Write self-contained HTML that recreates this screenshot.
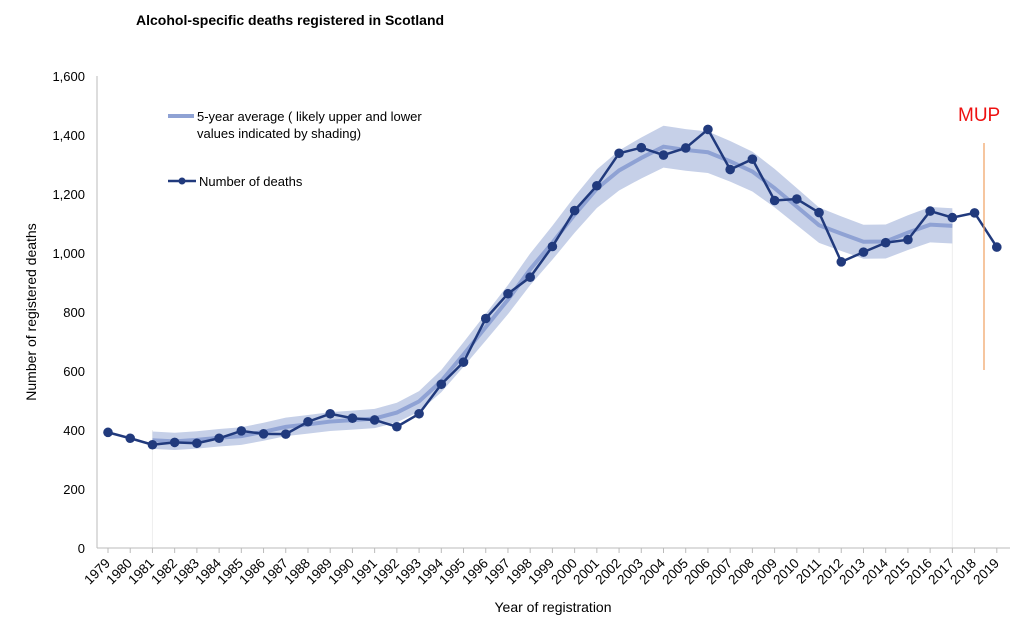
<!DOCTYPE html>
<html><head><meta charset="utf-8"><style>
body{margin:0;background:#fff;width:1024px;height:627px;overflow:hidden}
svg{font-family:"Liberation Sans",Arial,sans-serif}
</style></head><body>
<svg id="c" width="1024" height="627" viewBox="0 0 1024 627">
<text x="136" y="25" font-size="14" font-weight="bold">Alcohol-specific deaths registered in Scotland</text>
<g id="g"></g>
<line x1="97" y1="76" x2="97" y2="548" stroke="#bbb"/>
<line x1="97" y1="548" x2="1010" y2="548" stroke="#bbb"/>
<g font-size="13" text-anchor="end" fill="#000">
<text x="85" y="553">0</text><text x="85" y="494">200</text><text x="85" y="435">400</text><text x="85" y="376">600</text><text x="85" y="317">800</text><text x="85" y="258">1,000</text><text x="85" y="199">1,200</text><text x="85" y="140">1,400</text><text x="85" y="81">1,600</text>
</g>
<text transform="translate(36,312) rotate(-90)" font-size="14" text-anchor="middle">Number of registered deaths</text>
<text x="553" y="612" font-size="14" text-anchor="middle">Year of registration</text>
<g id="yl" font-size="13.5" text-anchor="end">
<text transform="translate(111,564) rotate(-45)">1979</text><text transform="translate(133,564) rotate(-45)">1980</text><text transform="translate(155,564) rotate(-45)">1981</text><text transform="translate(178,564) rotate(-45)">1982</text><text transform="translate(200,564) rotate(-45)">1983</text><text transform="translate(222,564) rotate(-45)">1984</text><text transform="translate(244,564) rotate(-45)">1985</text><text transform="translate(266,564) rotate(-45)">1986</text><text transform="translate(289,564) rotate(-45)">1987</text><text transform="translate(311,564) rotate(-45)">1988</text><text transform="translate(333,564) rotate(-45)">1989</text><text transform="translate(355,564) rotate(-45)">1990</text><text transform="translate(378,564) rotate(-45)">1991</text><text transform="translate(400,564) rotate(-45)">1992</text><text transform="translate(422,564) rotate(-45)">1993</text><text transform="translate(444,564) rotate(-45)">1994</text><text transform="translate(466,564) rotate(-45)">1995</text><text transform="translate(489,564) rotate(-45)">1996</text><text transform="translate(511,564) rotate(-45)">1997</text><text transform="translate(533,564) rotate(-45)">1998</text><text transform="translate(555,564) rotate(-45)">1999</text><text transform="translate(578,564) rotate(-45)">2000</text><text transform="translate(600,564) rotate(-45)">2001</text><text transform="translate(622,564) rotate(-45)">2002</text><text transform="translate(644,564) rotate(-45)">2003</text><text transform="translate(666,564) rotate(-45)">2004</text><text transform="translate(689,564) rotate(-45)">2005</text><text transform="translate(711,564) rotate(-45)">2006</text><text transform="translate(733,564) rotate(-45)">2007</text><text transform="translate(755,564) rotate(-45)">2008</text><text transform="translate(778,564) rotate(-45)">2009</text><text transform="translate(800,564) rotate(-45)">2010</text><text transform="translate(822,564) rotate(-45)">2011</text><text transform="translate(844,564) rotate(-45)">2012</text><text transform="translate(866,564) rotate(-45)">2013</text><text transform="translate(889,564) rotate(-45)">2014</text><text transform="translate(911,564) rotate(-45)">2015</text><text transform="translate(933,564) rotate(-45)">2016</text><text transform="translate(955,564) rotate(-45)">2017</text><text transform="translate(977,564) rotate(-45)">2018</text><text transform="translate(1000,564) rotate(-45)">2019</text>
</g>
<line x1="168" y1="116" x2="194" y2="116" stroke="#8fa2d4" stroke-width="4"/>
<text x="197" y="121" font-size="13">5-year average ( likely upper and lower</text>
<text x="197" y="138" font-size="13">values indicated by shading)</text>
<line x1="168" y1="181" x2="196" y2="181" stroke="#213a7d" stroke-width="2.5"/>
<circle cx="182" cy="181" r="3.5" fill="#213a7d"/>
<text x="199" y="186" font-size="13">Number  of deaths</text>
<line x1="984" y1="143" x2="984" y2="370" stroke="#f0a060" stroke-width="1.2"/>
<text x="958" y="121" font-size="19" fill="#ee1111">MUP</text>
</svg>
<script>
var d=[392,372,350,358,355,372,397,387,386,428,455,440,434,411,455,555,630,778,862,918,1022,1144,1228,1338,1357,1332,1356,1419,1283,1318,1178,1183,1137,970,1003,1035,1045,1142,1120,1136,1020];
function X(i){return 108+i*22.22}function Y(v){return 548-v*0.295}
var a=[];for(var i=2;i<=38;i++){var s=0;for(var k=i-2;k<=i+2&&k<=40;k++)s+=d[k];a[i]=s/5}
a[37]=1096;a[38]=1092;
var up=[],lo=[],av=[];
for(i=2;i<=38;i++){var e=a[i]*0.042+14;up.push(X(i)+','+Y(a[i]+e));lo.unshift(X(i)+','+Y(a[i]-e));av.push(X(i)+','+Y(a[i]))}
var h='<line x1="'+X(2)+'" y1="'+Y(400)+'" x2="'+X(2)+'" y2="548" stroke="#eee"/><line x1="'+X(38)+'" y1="'+Y(1100)+'" x2="'+X(38)+'" y2="548" stroke="#eee"/>';
h+='<polygon points="'+up.join(' ')+' '+lo.join(' ')+'" fill="#c6d0e8"/>';
h+='<polyline points="'+av.join(' ')+'" fill="none" stroke="#8fa2d4" stroke-width="4"/>';
for(i=0;i<=40;i++)h+='<line x1="'+X(i)+'" y1="548" x2="'+X(i)+'" y2="553" stroke="#bbb"/>';
var p=[];for(i=0;i<=40;i++)p.push(X(i)+','+Y(d[i]));
h+='<polyline points="'+p.join(' ')+'" fill="none" stroke="#213a7d" stroke-width="2.5"/>';
for(i=0;i<=40;i++)h+='<circle cx="'+X(i)+'" cy="'+Y(d[i])+'" r="4.8" fill="#213a7d"/>';
document.getElementById('g').innerHTML=h;
</script>
</body></html>
